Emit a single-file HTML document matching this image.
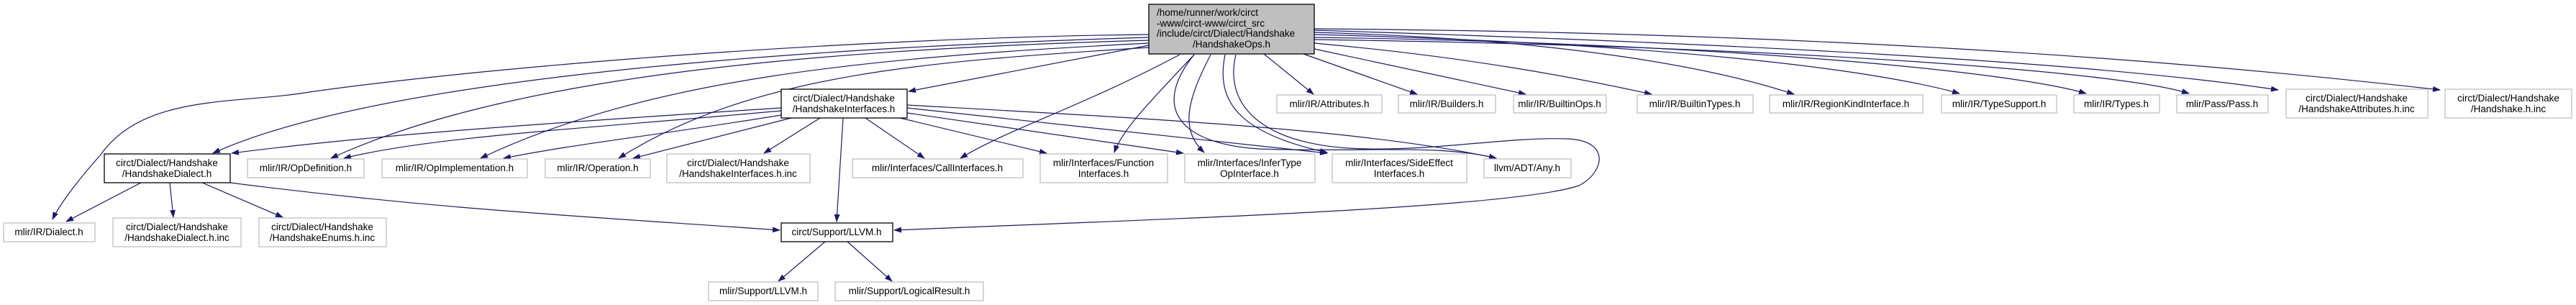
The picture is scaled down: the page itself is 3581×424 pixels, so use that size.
<!DOCTYPE html>
<html><head><meta charset="utf-8"><style>
html,body{margin:0;padding:0;background:#fff;}
svg{display:block}
text{font-family:"Liberation Sans",sans-serif;font-size:13.5px;fill:#000}
.n{fill:#fff;stroke:#bfbfbf;stroke-width:1.3}
.b{fill:#fff;stroke:#000;stroke-width:1.3}
.e{fill:none;stroke:#191970;stroke-width:1.2}
</style></head><body>
<svg width="3581" height="424" viewBox="0 0 3581 424" xmlns="http://www.w3.org/2000/svg">
<defs><marker id="a" markerWidth="11" markerHeight="8" refX="10" refY="4" orient="auto" markerUnits="userSpaceOnUse"><path d="M0,0 L11,4 L0,8 z" fill="#191970"/></marker></defs>
<g class="e" marker-end="url(#a)">
<path d="M1597,48 C1200,52 700,90 430,128 C330,145 200,130 140,215 C100,260 80,290 73,305"/>
<path d="M1597,52 C1000,70 500,120 296,213"/>
<path d="M1597,56 C1100,70 700,110 460,220"/>
<path d="M1597,60 C1200,80 900,110 668,220"/>
<path d="M1597,66 C1300,85 1050,100 860,220"/>
<path d="M1597,63 L1263,127"/>
<path d="M1640,76 C1500,150 1400,180 1335,220"/>
<path d="M1660,76 C1600,140 1560,180 1549,212"/>
<path d="M1683,76 C1650,140 1640,180 1674,212"/>
<path d="M1703,76 C1690,140 1720,185 1845,212"/>
<path d="M1718,76 C1700,150 1760,205 1900,207 C2000,209 2100,190 2180,193 C2240,196 2230,240 2195,258 C2100,290 1600,305 1243,320"/>
<path d="M1660,76 C1600,150 1640,200 1750,207 C1900,212 2000,200 2080,220"/>
<path d="M1757,75 L1826,131"/>
<path d="M1812,75 L1970,131"/>
<path d="M1827,68 L2121,131"/>
<path d="M1827,60 C2050,80 2200,110 2296,131"/>
<path d="M1827,45 C2200,55 2400,100 2494,131"/>
<path d="M1827,48 C2300,60 2600,95 2724,130"/>
<path d="M1827,52 C2400,60 2800,100 2900,130"/>
<path d="M1827,55 C2500,65 2950,100 3043,130"/>
<path d="M1827,42 C2400,60 2900,85 3167,125"/>
<path d="M1827,40 C2500,45 3000,80 3392,125"/>
<path d="M1086,150 C700,175 500,190 322,213"/>
<path d="M1086,154 C800,180 600,190 478,220"/>
<path d="M1086,160 C900,190 800,200 700,220"/>
<path d="M1100,164 L880,220"/>
<path d="M1140,164 L1062,213"/>
<path d="M1172,164 L1163,308"/>
<path d="M1203,164 L1285,220"/>
<path d="M1251,164 L1455,213"/>
<path d="M1261,157 L1645,213"/>
<path d="M1261,150 L1845,213"/>
<path d="M1261,146 C1600,165 1900,180 2080,220"/>
<path d="M196,254 L92,308"/>
<path d="M236,254 L241,302"/>
<path d="M281,254 L393,302"/>
<path d="M320,254 C600,290 800,300 1084,320"/>
<path d="M1147,336 L1082,391"/>
<path d="M1178,336 L1240,391"/>
</g>
<rect x="1597" y="6" width="230" height="69" fill="#bfbfbf" stroke="#000" stroke-width="1.3"/>
<text x="1608" y="22">/home/runner/work/circt</text>
<text x="1608" y="37">-www/circt-www/circt_src</text>
<text x="1608" y="51">/include/circt/Dialect/Handshake</text>
<text x="1712" y="66" text-anchor="middle">/HandshakeOps.h</text>
<g text-anchor="middle">
<rect class="b" x="1086" y="124" width="175" height="40"/><text x="1173" y="141">circt/Dialect/Handshake</text><text x="1173" y="156">/HandshakeInterfaces.h</text>
<rect class="b" x="145" y="214" width="175" height="40"/><text x="232" y="231">circt/Dialect/Handshake</text><text x="232" y="246">/HandshakeDialect.h</text>
<rect class="n" x="344" y="221" width="162" height="26"/><text x="425" y="238">mlir/IR/OpDefinition.h</text>
<rect class="n" x="531" y="221" width="202" height="26"/><text x="632" y="238">mlir/IR/OpImplementation.h</text>
<rect class="n" x="758" y="221" width="146" height="26"/><text x="831" y="238">mlir/IR/Operation.h</text>
<rect class="n" x="927" y="214" width="199" height="40"/><text x="1026" y="231">circt/Dialect/Handshake</text><text x="1026" y="246">/HandshakeInterfaces.h.inc</text>
<rect class="n" x="5" y="310" width="127" height="26"/><text x="68" y="327">mlir/IR/Dialect.h</text>
<rect class="n" x="157" y="303" width="178" height="40"/><text x="246" y="320">circt/Dialect/Handshake</text><text x="246" y="335">/HandshakeDialect.h.inc</text>
<rect class="n" x="360" y="303" width="177" height="40"/><text x="448" y="320">circt/Dialect/Handshake</text><text x="448" y="335">/HandshakeEnums.h.inc</text>
<rect class="b" x="1086" y="310" width="155" height="26"/><text x="1163" y="327">circt/Support/LLVM.h</text>
<rect class="n" x="985" y="392" width="152" height="26"/><text x="1061" y="409">mlir/Support/LLVM.h</text>
<rect class="n" x="1161" y="392" width="206" height="26"/><text x="1264" y="409">mlir/Support/LogicalResult.h</text>
<rect class="n" x="1185" y="221" width="237" height="26"/><text x="1303" y="238">mlir/Interfaces/CallInterfaces.h</text>
<rect class="n" x="1446" y="214" width="177" height="40"/><text x="1534" y="231">mlir/Interfaces/Function</text><text x="1534" y="246">Interfaces.h</text>
<rect class="n" x="1647" y="214" width="181" height="40"/><text x="1737" y="231">mlir/Interfaces/InferType</text><text x="1737" y="246">OpInterface.h</text>
<rect class="n" x="1852" y="214" width="187" height="40"/><text x="1945" y="231">mlir/Interfaces/SideEffect</text><text x="1945" y="246">Interfaces.h</text>
<rect class="n" x="2063" y="221" width="121" height="26"/><text x="2123" y="238">llvm/ADT/Any.h</text>
<rect class="n" x="1775" y="132" width="146" height="25"/><text x="1848" y="149">mlir/IR/Attributes.h</text>
<rect class="n" x="1944" y="132" width="135" height="25"/><text x="2011" y="149">mlir/IR/Builders.h</text>
<rect class="n" x="2104" y="132" width="129" height="25"/><text x="2168" y="149">mlir/IR/BuiltinOps.h</text>
<rect class="n" x="2276" y="132" width="161" height="25"/><text x="2356" y="149">mlir/IR/BuiltinTypes.h</text>
<rect class="n" x="2460" y="132" width="213" height="25"/><text x="2566" y="149">mlir/IR/RegionKindInterface.h</text>
<rect class="n" x="2699" y="132" width="160" height="25"/><text x="2779" y="149">mlir/IR/TypeSupport.h</text>
<rect class="n" x="2883" y="132" width="119" height="25"/><text x="2942" y="149">mlir/IR/Types.h</text>
<rect class="n" x="3026" y="132" width="127" height="25"/><text x="3089" y="149">mlir/Pass/Pass.h</text>
<rect class="n" x="3178" y="124" width="197" height="40"/><text x="3276" y="141">circt/Dialect/Handshake</text><text x="3276" y="156">/HandshakeAttributes.h.inc</text>
<rect class="n" x="3399" y="124" width="176" height="40"/><text x="3487" y="141">circt/Dialect/Handshake</text><text x="3487" y="156">/Handshake.h.inc</text>
</g>
</svg>
</body></html>
